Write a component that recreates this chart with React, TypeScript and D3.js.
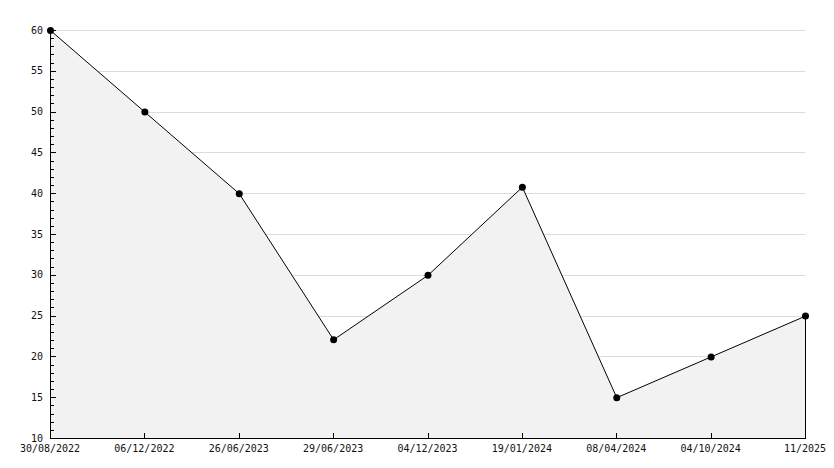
import React from "react";
import * as d3 from "d3";

const categories = ["30/08/2022", "06/12/2022", "26/06/2023", "29/06/2023", "04/12/2023", "19/01/2024", "08/04/2024", "04/10/2024", "11/2025"];
const values = [60, 50, 40, 22.1, 30, 40.8, 15, 20, 25];
const yMajorTicks = [10, 15, 20, 25, 30, 35, 40, 45, 50, 55, 60];

const W = 834;
const H = 468;
const left = 50;
const right = 805;
const top = 30;
const bottom = 438;

export default function App() {
  const x = d3.scalePoint<string>().domain(categories).range([left, right]);
  const y = d3.scaleLinear().domain([10, 60]).range([bottom, top]);
  const minor = d3.range(10, 61, 1);

  const pts: [number, number][] = categories.map((c, i) => [(x(c) as number) + 0.5, y(values[i]) + 0.5]);
  const area = d3.area<[number, number]>().x((d) => d[0]).y0(bottom).y1((d) => d[1]);
  const line = d3.line<[number, number]>().x((d) => d[0]).y((d) => d[1]);
  const font = "'DejaVu Sans Mono', monospace";

  return (
    <svg width={W} height={H} style={{ position: "absolute", left: 0, top: 0, background: "#fff" }}>
      {yMajorTicks.filter((t) => t !== 10).map((t) => (
        <line key={"g" + t} x1={left} x2={right} y1={Math.round(y(t)) + 0.5} y2={Math.round(y(t)) + 0.5} stroke="#dcdcdc" strokeWidth={1} shapeRendering="crispEdges" />
      ))}
      <path d={area(pts) || ""} fill="#f2f2f2" stroke="none" />
      <line x1={right + 0.5} x2={right + 0.5} y1={y(values[values.length - 1])} y2={bottom} stroke="#000" shapeRendering="crispEdges" />
      <path d={line(pts) || ""} fill="none" stroke="#000" strokeWidth={1} />
      <line x1={left + 0.5} x2={left + 0.5} y1={top} y2={bottom + 1} stroke="#000" shapeRendering="crispEdges" />
      {minor.map((t) => {
        const major = t % 5 === 0;
        const yy = Math.round(y(t)) + 0.5;
        return <line key={"m" + t} x1={left} x2={left + (major ? 6 : 4)} y1={yy} y2={yy} stroke="#000" shapeRendering="crispEdges" />;
      })}
      {yMajorTicks.map((t) => (
        <text key={"yl" + t} x={43} y={y(t)} dy="0.35em" textAnchor="end" fontFamily={font} fontSize={10} fill="#111">
          {t}
        </text>
      ))}
      <line x1={left} x2={right + 1} y1={bottom + 0.5} y2={bottom + 0.5} stroke="#000" shapeRendering="crispEdges" />
      {categories.map((c, i) => {
        const xx = Math.round(x(c) as number) + 0.5;
        return (
          <g key={"x" + c}>
            {i > 0 && i < categories.length - 1 && (
              <line x1={xx} x2={xx} y1={bottom} y2={bottom - 5} stroke="#000" shapeRendering="crispEdges" />
            )}
            <text x={x(c) as number} y={452} textAnchor="middle" fontFamily={font} fontSize={10} fill="#111">
              {c}
            </text>
          </g>
        );
      })}
      {pts.map((p, i) => (
        <circle key={"p" + i} cx={p[0]} cy={p[1]} r={3.5} fill="#000" />
      ))}
    </svg>
  );
}
